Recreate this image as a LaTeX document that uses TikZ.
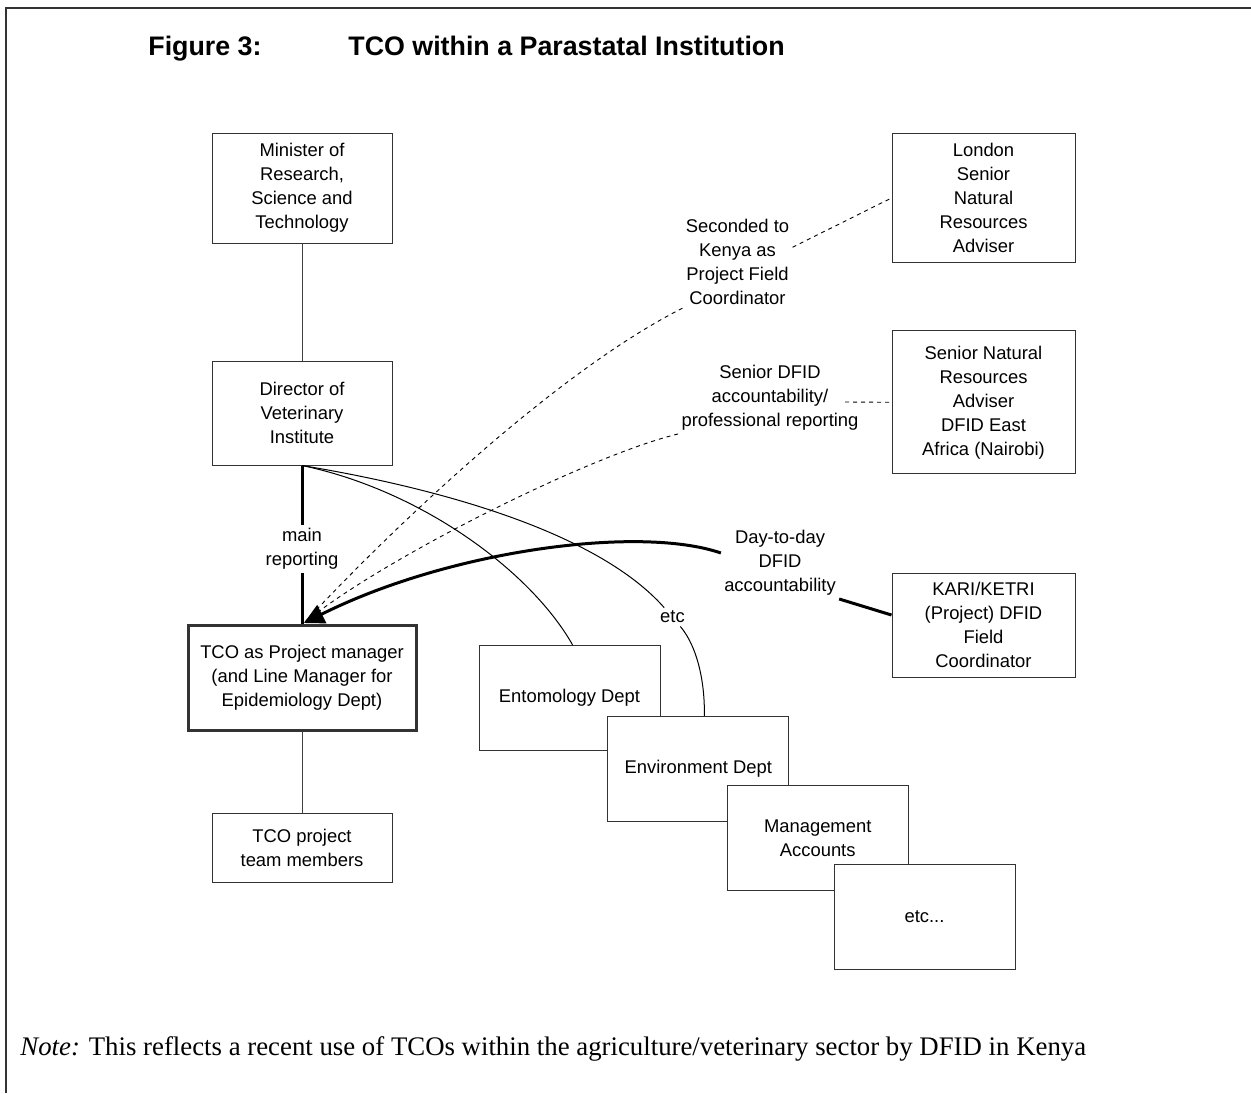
\documentclass[tikz,border=0pt]{standalone}
\usepackage{fontspec}
\setmainfont{Liberation Sans}
\newfontfamily\notefont{Liberation Serif}
\usetikzlibrary{arrows.meta}

\begin{document}
\begin{tikzpicture}[x=0.5pt,y=-0.5pt]

\tikzset{box/.style = {shape=rectangle,draw=black!80,line width=0.5pt,fill=white,align=center,inner sep=0pt,minimum width=90pt,font=\fontsize{9.2}{12}\selectfont}}
\tikzset{dept/.style = {box,minimum width=90.5pt,minimum height=52.75pt}}
\tikzset{lbl/.style = {align=center,inner sep=1.5pt,font=\fontsize{9.2}{12}\selectfont}}
\tikzset{headline/.style = {anchor=base west,inner sep=0pt,font=\fontsize{13.4}{16}\selectfont\bfseries}}
\tikzset{link/.style = {line width=0.5pt}}
\tikzset{dashlink/.style = {line width=0.45pt,dash pattern=on 2pt off 2pt}}
\tikzset{boldlink/.style = {line width=1.5pt}}

\useasboundingbox (0,0) rectangle (1251,1093);

% frame
\draw[line width=0.9pt,black!80] (1251,8) -- (6,8) -- (6,1093);

% title
\node[headline] (fig) at (148,55) {Figure 3:};
\node[headline] (title) at (348,55) {TCO within a Parastatal Institution};

% vertices
\node[box,minimum height=55pt] (mini) at (302,188) {Minister of\\Research,\\Science and\\Technology};
\node[box,minimum height=52pt] (dir) at (302,413) {Director of\\Veterinary\\Institute};
\node[box,line width=1.5pt,minimum width=114pt,minimum height=52.5pt] (tco) at (302,677.5) {TCO as Project manager\\(and Line Manager for\\Epidemiology Dept)};
\node[box,minimum height=34.5pt] (team) at (302,847.5) {TCO project\\team members};
\node[box,minimum width=91.5pt,minimum height=64.5pt] (london) at (983.5,198) {London\\Senior\\Natural\\Resources\\Adviser};
\node[box,minimum width=91.5pt,minimum height=71.5pt] (snra) at (983.5,402.3) {Senior Natural\\Resources\\Adviser\\DFID East\\Africa (Nairobi)};
\node[box,minimum width=91.5pt,minimum height=52pt] (kari) at (983.5,625) {KARI/KETRI\\(Project) DFID\\Field\\Coordinator};
\node[dept] (ento) at (569.5,698) {Entomology Dept};
\node[dept] (env) at (698.3,769) {Environment Dept};
\node[dept] (mgmt) at (817.7,838) {Management\\Accounts};
\node[dept] (etcbox) at (924.5,917) {etc...};

% labels
\node[lbl] (mainrep) at (302,549) {main\\reporting};
\node[lbl] (seconded) at (737.5,262) {Seconded to\\Kenya as\\Project Field\\Coordinator};
\node[lbl] (sdfid) at (770,398) {Senior DFID\\accountability/\\professional reporting};
\node[lbl] (dayto) at (780,563) {Day-to-day\\DFID\\accountability};
\node[lbl] (etcl) at (672.5,617) {etc};
\coordinate (tip) at (304,623);
\coordinate (sdfidR) at (845,402);

% arcs
\draw[link,black!75] (mini) -- (dir);
\draw[boldlink] (dir.south) -- (mainrep);
\draw[boldlink] (mainrep) -- (tco.north);
\draw[link,black!75] (tco) -- (team);
\draw[link] (dir.south) .. controls (420,490) and (530,570) .. ([xshift=1.5pt]ento.north);
\draw[link] (dir.south) .. controls (450,490) and (600,535) .. (etcl);
\draw[link] (etcl) .. controls (700,650) and (705,690) .. ([xshift=3pt]env.north);

% dashed and bold edges
\draw[dashlink] (seconded.15) -- (london.west);
\draw[dashlink] (seconded.south west) .. controls (560,370) and (400,520) .. (tip);
\draw[dashlink] (sdfidR) -- (snra.west);
\draw[dashlink] (sdfid.south west) .. controls (590,455) and (380,560) .. (tip);
\draw[boldlink] (dayto.south east) -- ([yshift=5pt]kari.west);
\draw[boldlink,-{Triangle[length=10pt,width=10pt]}] ([yshift=5pt]dayto.west) .. controls (640,525) and (450,550) .. (tip);

% note
\node[anchor=base west,inner sep=0pt,font=\notefont\fontsize{13.4}{16}\selectfont] (note) at (20,1055) {\textit{Note:} This reflects a recent use of TCOs within the agriculture/veterinary sector by DFID in Kenya};

\end{tikzpicture}
\end{document}
